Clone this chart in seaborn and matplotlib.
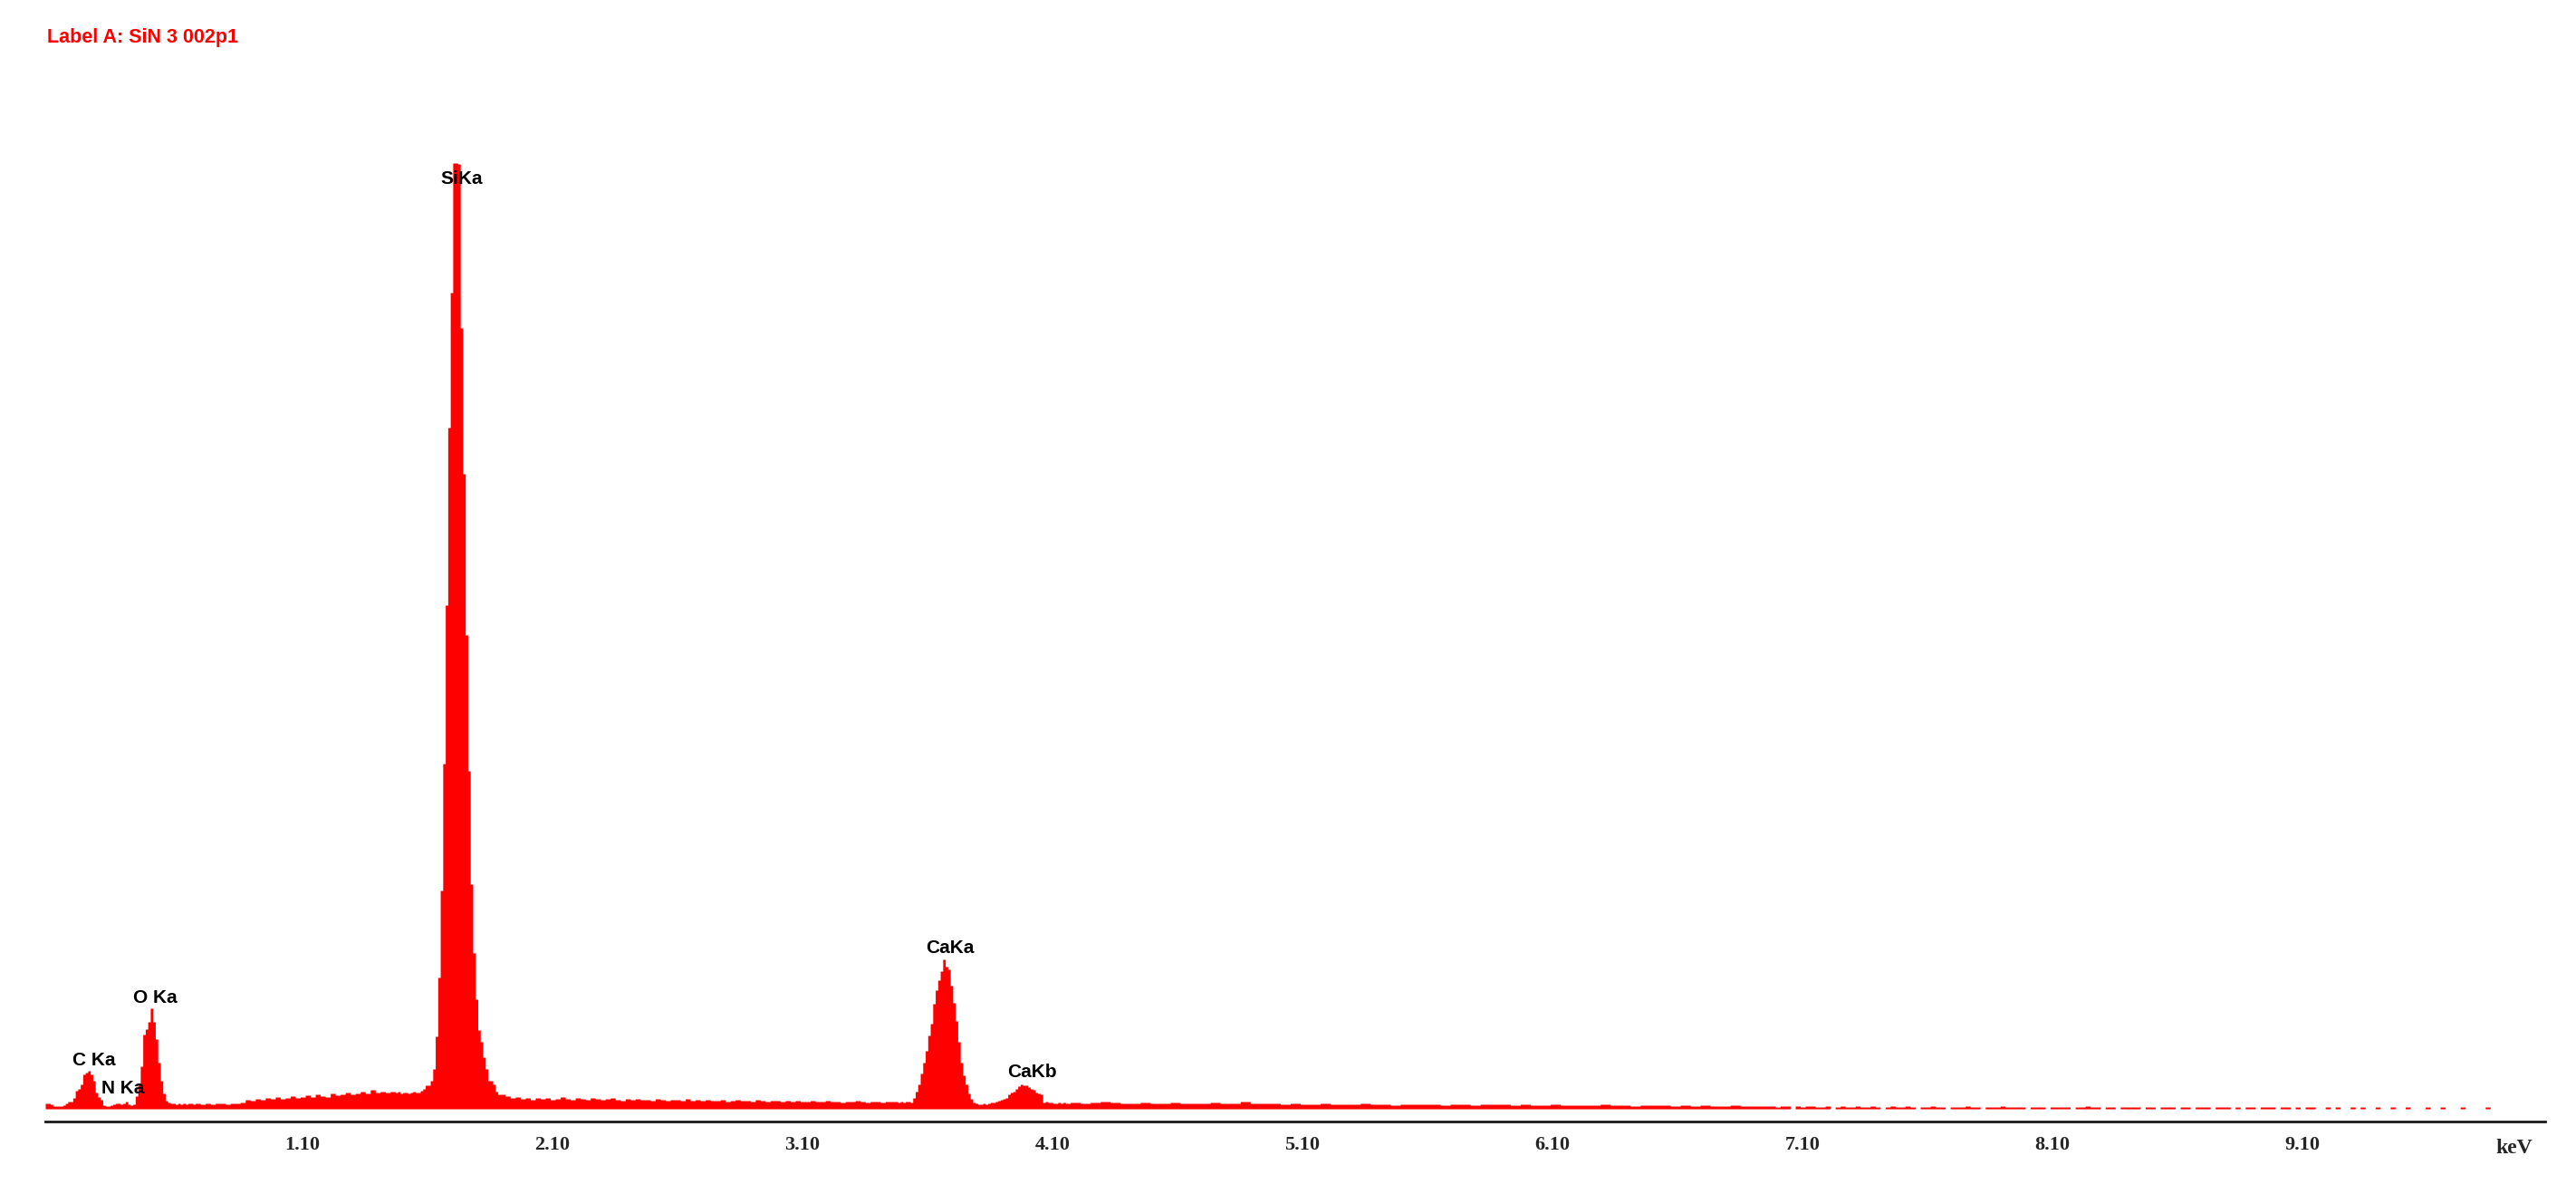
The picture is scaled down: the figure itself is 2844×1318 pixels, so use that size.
import numpy as np
import pandas as pd
import matplotlib
matplotlib.use('Agg')
import matplotlib.pyplot as plt
import matplotlib.transforms as mtransforms
import seaborn as sns

# EDS spectrum, counts per channel.
# each segment: start energy (keV), channel width (keV), counts
low_start, low_width = 0.10, 0.01
low_counts = [6, 6, 5, 3, 3, 3, 3, 4, 6, 8,
              8, 12, 20, 22, 27, 38, 40, 42, 38, 31,
              18, 13, 10, 4, 3, 3, 4, 5, 6, 6,
              5, 6, 8, 5, 4, 5, 14, 27, 47, 82,
              88, 96, 111, 96, 77, 51, 31, 17, 9, 7,
              6, 6, 5, 6, 5, 6, 5, 6, 6, 5]

bg1_start, bg1_width = 0.70, 0.02
bg1_counts = [6, 5, 6, 5, 6, 6, 5, 6, 6, 7,
              10, 9, 11, 10, 12, 11, 13, 11, 12, 14,
              12, 13, 15, 13, 16, 14, 13, 17, 15, 16,
              18, 16, 17, 19, 17, 21, 18, 19, 18, 19]

si_start, si_width = 1.50, 0.01
si_counts = [18, 19, 17, 18, 18, 17, 18, 19, 18, 18,
             20, 22, 26, 26, 31, 44, 80, 145, 241, 381,
             556, 752, 901, 1044, 1044, 1043, 862, 701, 523, 373,
             248, 172, 121, 87, 74, 57, 44, 31, 31, 27,
             19, 16]

bg2_start, bg2_width = 1.92, 0.02
bg2_counts = [16, 14, 12, 13, 11, 12, 10, 12, 11, 12,
              10, 11, 13, 11, 10, 12, 11, 10, 12, 11,
              10, 11, 12, 10, 9, 11, 10, 11, 10,
              10, 9, 11, 10, 9, 10, 10, 9, 11, 9,
              10, 9, 10, 9, 9, 10, 8, 9, 10, 9,
              9, 8, 10, 9, 8, 9, 9, 8, 9, 8,
              9, 8, 8, 9, 8, 8, 9, 8, 8, 7,
              8, 8, 9, 8, 7, 8, 8, 7, 8, 8]

ca_start, ca_width = 3.50, 0.01
ca_counts = [8, 7, 8, 7, 8, 8, 7, 12, 19, 27,
             39, 51, 64, 81, 94, 116, 131, 142, 152, 165,
             157, 154, 136, 117, 97, 74, 51, 37, 27, 17,
             11, 7, 6, 5, 5, 6, 5, 6, 7, 7,
             8, 9, 10, 11, 12, 16, 18, 19, 22, 25,
             27, 26, 26, 24, 22, 21, 18, 17, 16, 7,
             8, 7, 7, 6, 6, 7, 6, 7, 6, 6]

tail_start, tail_width = 4.20, 0.04
tail_counts = [7, 6, 7, 8, 7, 6, 6, 7, 6, 6, 7, 6, 6, 6, 7, 6, 6, 8, 6, 6,
               6, 5, 6, 5, 5, 6, 5, 5, 5, 6, 5, 5, 4, 5, 5, 5, 5, 4, 5, 5,
               4, 5, 5, 5, 4,
               5, 4, 4, 5, 4, 4, 4, 4, 5, 4, 4, 3, 4, 4, 4, 3, 4, 3, 4, 3,
               3, 4, 3, 3, 3]

end_start, end_width = 7.00, 0.02
end_counts = [3, 2, 3, 3, 0, 3, 2, 3, 3, 2, 2, 3, 0, 2, 3, 2, 2, 3, 2, 2,
              3, 2, 0, 2, 3,
              2, 2, 3, 2, 0, 2, 2, 3, 2, 2, 0, 2, 2, 2, 3, 2, 2, 0, 2, 2,
              2, 3, 2, 2, 2,
              2, 0, 2, 2, 2, 0, 2, 2, 2, 2, 0, 2, 2, 3, 2, 2, 0, 2, 2, 0,
              2, 2, 2, 2, 0,
              2, 2, 0, 2, 2, 2, 0, 2, 2, 0, 2, 2, 2, 0, 2, 2, 2, 0, 2, 0,
              2, 2, 0, 2, 2,
              2, 0, 2, 2, 0, 2, 0, 2, 2, 0, 0, 2, 0, 2, 0, 0, 2, 0, 2, 0,
              0, 2, 0, 0, 2,
              0, 0, 2, 0, 0, 0, 2, 0, 0, 2, 0, 0, 0, 2, 0, 0, 0, 0, 2, 0,
              0, 0, 0, 0, 0]

# peak labels: name, energy (keV), baseline height (counts)
peak_names = ['SiKa', 'O Ka', 'C Ka', 'N Ka', 'CaKa', 'CaKb']
peak_kev = [1.767, 0.540, 0.296, 0.410, 3.720, 4.046]
peak_y = [1021, 117, 48, 17, 172, 35]

tick_values = [1.10, 2.10, 3.10, 4.10, 5.10, 6.10, 7.10, 8.10, 9.10]
tick_labels = ['1.10', '2.10', '3.10', '4.10', '5.10',
               '6.10', '7.10', '8.10', '9.10']


def build_channels():
    '''
    Joins the spectrum segments into one table of channels
    plus the list of bin edges for histplot
    '''
    segments = [(low_start, low_width, low_counts),
                (bg1_start, bg1_width, bg1_counts),
                (si_start, si_width, si_counts),
                (bg2_start, bg2_width, bg2_counts),
                (ca_start, ca_width, ca_counts),
                (tail_start, tail_width, tail_counts),
                (end_start, end_width, end_counts)]
    edges = []
    counts = []
    for start, width, vals in segments:
        edges.extend(np.round(start + width * np.arange(len(vals)), 4))
        counts.extend(vals)
    last_start, last_width, last_vals = segments[-1]
    edges.append(round(last_start + last_width * len(last_vals), 4))
    edges = np.array(edges)
    spectrum = pd.DataFrame({'keV': (edges[:-1] + edges[1:]) / 2,
                             'counts': np.array(counts, dtype=float)})
    return [float(e) for e in edges], spectrum


def main():
    sns.set_style('white')
    W, H = 2844, 1318
    fig = plt.figure(figsize=(W / 100, H / 100), dpi=100)
    ax = fig.add_axes([50 / W, (H - 1224) / H, 2760 / W, 1094 / H])

    edges, spectrum = build_channels()
    sns.histplot(data=spectrum, x='keV', weights='counts', bins=edges,
                 element='step', fill=True, color='#ff0000', alpha=1,
                 linewidth=0, ax=ax)

    ax.set_xlim(0.10, 10.10)
    ax.set_ylim(0, 1094)
    ax.set_xlabel('')
    ax.set_ylabel('')
    ax.set_yticks([])

    for side in ['top', 'right', 'left']:
        ax.spines[side].set_visible(False)
    ax.spines['bottom'].set_position(('outward', 10))
    ax.spines['bottom'].set_linewidth(2.0)
    ax.spines['bottom'].set_color('#1a1a1a')

    ax.set_xticks(tick_values)
    ax.set_xticklabels(tick_labels, fontfamily='Liberation Serif',
                       fontweight='bold', fontsize=16)
    ax.tick_params(axis='x', direction='inout', length=11.5, width=1.1,
                   color='#1a1a1a', pad=5.5)
    offset = mtransforms.ScaledTranslation(0.08, 0, fig.dpi_scale_trans)
    for label in ax.get_xticklabels():
        label.set_transform(label.get_transform() + offset)

    for name, x, y in zip(peak_names, peak_kev, peak_y):
        ax.text(x, y, name, ha='center', va='baseline', fontsize=15,
                fontweight='bold', fontfamily='Liberation Sans',
                color='black', zorder=5)

    fig.text(52 / W, 1 - 47 / H, 'Label A: SiN 3 002p1', ha='left',
             va='baseline', color='#ff0000', fontsize=15.5,
             fontweight='bold', fontfamily='Liberation Sans')
    fig.text(2776 / W, 1 - 1273 / H, 'keV', ha='center', va='baseline',
             fontsize=17, fontweight='bold', fontfamily='Liberation Serif')

    fig.savefig('out.png', dpi=100)


if __name__ == '__main__':
    main()
